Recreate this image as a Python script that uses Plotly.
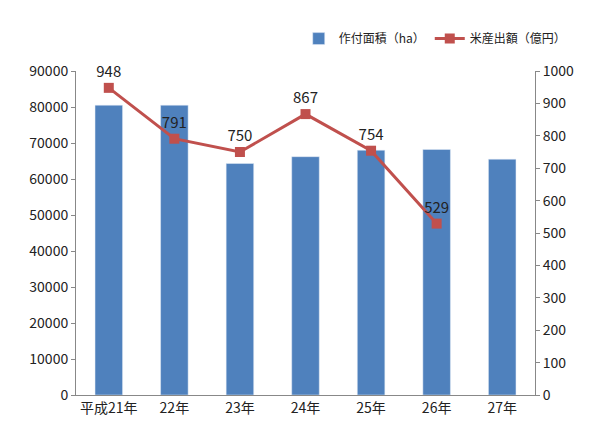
import plotly.graph_objects as go

# data
years = ["平成21年", "22年", "23年", "24年", "25年", "26年", "27年"]
area_ha = [80500, 80500, 64300, 66200, 68000, 68200, 65500]
rice_yen = [948, 791, 750, 867, 754, 529, None]

fig = go.Figure()
fig.add_trace(go.Bar(x=years, y=area_ha, name="作付面積（ha）",
                     marker_color="#4f81bd", width=0.42))
fig.add_trace(go.Scatter(x=years, y=rice_yen, name="米産出額（億円）", yaxis="y2",
                         mode="lines+markers+text", text=rice_yen,
                         texttemplate="%{y}", textposition="top center",
                         cliponaxis=False,
                         textfont=dict(size=15, color="#222"),
                         line=dict(color="#c0504d", width=3),
                         marker=dict(symbol="square", size=10, color="#c0504d")))

fig.update_layout(
    width=600, height=429, plot_bgcolor="white", paper_bgcolor="white",
    font=dict(family="Noto Sans CJK JP", size=14, color="#222"),
    margin=dict(l=68, r=73, t=63, b=42, autoexpand=False),
    bargap=0.5,
    legend=dict(orientation="h", x=1.08, xanchor="right", y=1.1, yanchor="middle",
                font=dict(size=12)),
    xaxis=dict(showline=True, linecolor="#888", ticks="", tickfont=dict(size=14)),
    yaxis=dict(range=[0, 90000], dtick=10000, tickformat="d", showgrid=False,
               showline=True, linecolor="#888", ticks="outside", ticklen=4,
               tickcolor="#888"),
    yaxis2=dict(range=[0, 1000], dtick=100, overlaying="y", side="right",
                showgrid=False, showline=True, linecolor="#888",
                ticks="outside", ticklen=4, tickcolor="#888"),
)
fig.write_html("out.html")
